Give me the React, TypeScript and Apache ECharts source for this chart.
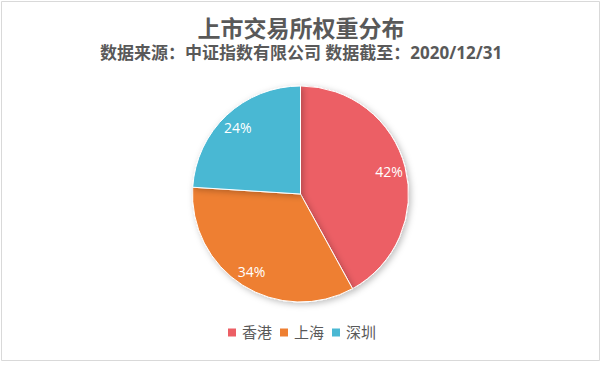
import React, { useEffect, useRef } from "react";
import * as echarts from "echarts";

const titleText = "上市交易所权重分布";
const subtitleText = "数据来源：中证指数有限公司 数据截至：2020/12/31";
const categories = ["香港", "上海", "深圳"];
const values = [42, 34, 24];
const colors = ["#EC5F65", "#EE7F32", "#4AB8D3"];

const FONT = "'Open Sans', 'Noto Sans CJK SC', sans-serif";

export default function App() {
  const ref = useRef<HTMLDivElement>(null);
  useEffect(() => {
    document.body.style.margin = "0";
    const chart = echarts.init(ref.current!, null, { renderer: "svg" });
    const data = categories.map((name, i) => ({
      name,
      value: values[i],
      itemStyle: { color: colors[i] },
    }));
    chart.setOption({
      animation: false,
      backgroundColor: "#ffffff",
      textStyle: { fontFamily: FONT },
      graphic: [
        {
          type: "rect",
          shape: { x: 1.5, y: 1.5, width: 598, height: 359 },
          style: { fill: "none", stroke: "#D9D9D9", lineWidth: 1 },
          silent: true,
        },
      ],
      title: [
        {
          text: titleText,
          left: "center",
          top: 14,
          padding: 0,
          textStyle: {
            fontFamily: FONT,
            fontSize: 23,
            lineHeight: 27,
            fontWeight: "bold",
            color: "#595959",
          },
        },
        {
          text: subtitleText,
          left: "center",
          top: 43,
          padding: 0,
          textStyle: {
            fontFamily: FONT,
            fontSize: 17,
            lineHeight: 19,
            fontWeight: "bold",
            color: "#595959",
          },
        },
      ],
      legend: {
        data: categories,
        bottom: 27,
        left: "center",
        itemWidth: 10,
        itemHeight: 10,
        itemGap: 6,
        icon: "rect",
        textStyle: { fontFamily: FONT, fontSize: 15, color: "#595959" },
      },
      series: [
        {
          type: "pie",
          center: [300.5, 194],
          radius: 108,
          startAngle: 90,
          clockwise: true,
          data,
          label: { show: false },
          labelLine: { show: false },
          itemStyle: {
            borderColor: "#ffffff",
            borderWidth: 1,
            shadowBlur: 6,
            shadowOffsetX: 2,
            shadowOffsetY: 2,
            shadowColor: "rgba(0,0,0,0.25)",
          },
          emphasis: { disabled: true },
        },
        {
          type: "pie",
          center: [300.5, 194],
          radius: [69, 108],
          startAngle: 90,
          clockwise: true,
          silent: true,
          data: data.map((d) => ({ ...d, itemStyle: { color: "rgba(0,0,0,0)" } })),
          itemStyle: { color: "rgba(0,0,0,0)", borderWidth: 0 },
          label: {
            show: true,
            position: "inside",
            formatter: "{c}%",
            color: "#ffffff",
            fontFamily: FONT,
            fontSize: 14,
          },
          labelLine: { show: false },
          emphasis: { disabled: true },
        },
      ],
    });
    return () => chart.dispose();
  }, []);
  return <div ref={ref} style={{ width: 602, height: 372 }} />;
}
